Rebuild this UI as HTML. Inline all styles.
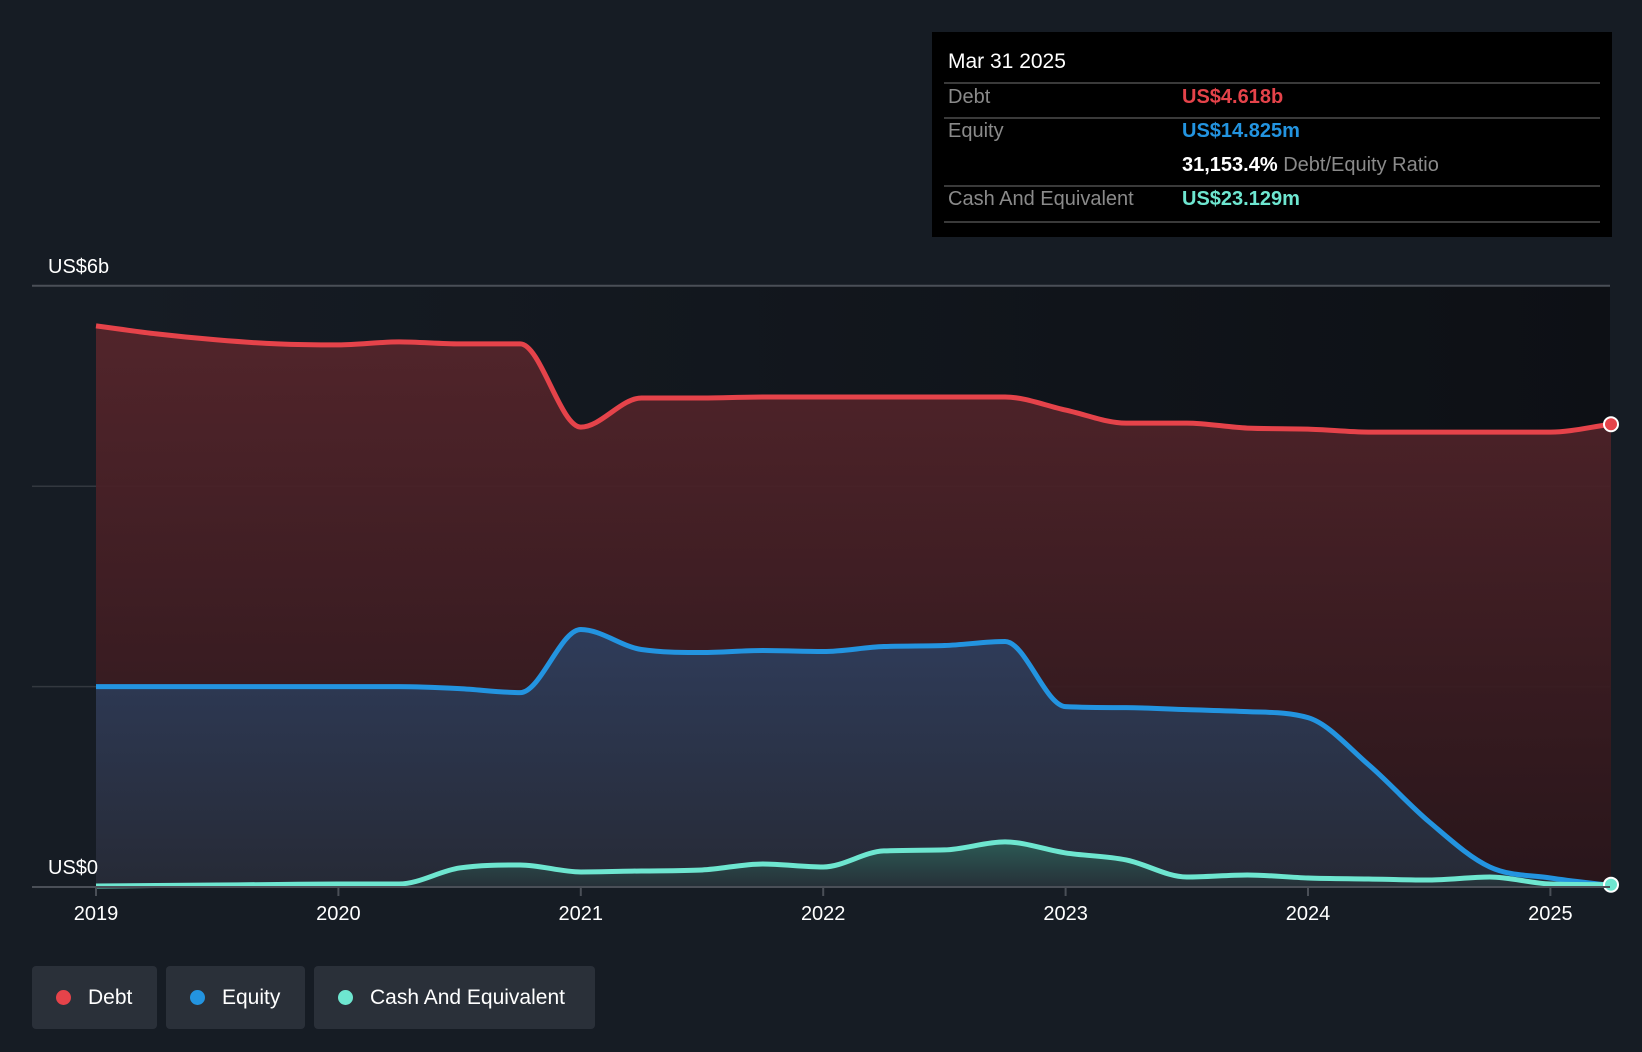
<!DOCTYPE html>
<html><head><meta charset="utf-8"><style>
body{margin:0;background:#161c24;width:1642px;height:1052px;overflow:hidden;font-family:"Liberation Sans",sans-serif;}
svg{position:absolute;left:0;top:0}
.tt{position:absolute;left:932px;top:32px;width:680px;height:205px;background:#000;}
.legend{position:absolute;top:966px;height:63px;background:#2a3039;border-radius:4px;color:#fff;font-size:21px;line-height:63px;box-sizing:border-box;padding-left:56px}
.legend i{position:absolute;left:24px;top:24px;width:15px;height:15px;border-radius:50%}
</style></head><body>
<svg id="chart" width="1642" height="1052">
<defs>
<linearGradient id="gd" x1="0" y1="0" x2="0" y2="1"><stop offset="0" stop-color="#55252b"/><stop offset="1" stop-color="#2a161b"/></linearGradient>
<linearGradient id="ge" x1="0" y1="0" x2="0" y2="1"><stop offset="0" stop-color="#2f3c5a"/><stop offset="1" stop-color="#262a36"/></linearGradient>
<linearGradient id="gc" x1="0" y1="0" x2="0" y2="1"><stop offset="0" stop-color="#2c5a55"/><stop offset="1" stop-color="#263038"/></linearGradient>
<linearGradient id="gbg" x1="0" y1="0" x2="1" y2="0"><stop offset="0" stop-color="#161c24"/><stop offset="1" stop-color="#0d1015"/></linearGradient>
</defs>
<rect x="96" y="286" width="1514" height="601" fill="url(#gbg)"/>
<g id="grid"></g><g id="areas"></g><g id="lines"></g><g id="axis"></g>
</svg>
<div class="tt">
<div style="position:absolute;left:16px;top:18px;color:#fff;font-size:21px">Mar 31 2025</div>
<div style="position:absolute;left:12px;right:12px;top:50px;border-top:2px solid #3a3a3a"></div>
<div style="position:absolute;left:16px;top:54px;color:#8a8a8a;font-size:20px">Debt</div>
<div style="position:absolute;left:250px;top:54px;color:#e5434a;font-size:20px;font-weight:bold">US$4.618b</div>
<div style="position:absolute;left:12px;right:12px;top:85px;border-top:2px solid #3a3a3a"></div>
<div style="position:absolute;left:16px;top:88px;color:#8a8a8a;font-size:20px">Equity</div>
<div style="position:absolute;left:250px;top:88px;color:#2394e0;font-size:20px;font-weight:bold">US$14.825m</div>
<div style="position:absolute;left:250px;top:122px;color:#fff;font-size:20px"><b>31,153.4%</b> <span style="color:#8a8a8a">Debt/Equity Ratio</span></div>
<div style="position:absolute;left:12px;right:12px;top:153px;border-top:2px solid #3a3a3a"></div>
<div style="position:absolute;left:16px;top:156px;color:#8a8a8a;font-size:20px">Cash And Equivalent</div>
<div style="position:absolute;left:250px;top:156px;color:#6ee6d0;font-size:20px;font-weight:bold">US$23.129m</div>
<div style="position:absolute;left:12px;right:12px;top:189px;border-top:2px solid #3a3a3a"></div>
</div>
<div class="legend" style="left:32px;width:125px"><i style="background:#e5434a"></i>Debt</div>
<div class="legend" style="left:166px;width:139px"><i style="background:#2394e0"></i>Equity</div>
<div class="legend" style="left:314px;width:281px"><i style="background:#6ee6d0"></i>Cash And Equivalent</div>
<script>
const dates=[];for(let i=0;i<26;i++)dates.push(2019+i*0.25);
const debt=[5.60,5.52,5.46,5.42,5.41,5.44,5.42,5.42,4.59,4.88,4.88,4.89,4.89,4.89,4.89,4.89,4.76,4.63,4.63,4.58,4.57,4.54,4.54,4.54,4.54,4.618];
const equity=[2.00,2.00,2.00,2.00,2.00,2.00,1.98,1.94,2.57,2.37,2.34,2.36,2.35,2.40,2.41,2.45,1.80,1.79,1.77,1.75,1.69,1.22,0.65,0.20,0.09,0.0148];
const cash=[0.01,0.015,0.02,0.025,0.03,0.03,0.19,0.22,0.15,0.16,0.17,0.23,0.20,0.36,0.37,0.45,0.34,0.27,0.10,0.12,0.09,0.08,0.07,0.10,0.03,0.023];
const yTicks=[0,2,4,6];
const yTickLabels={0:"US$0",6:"US$6b"};
const xYears=[2019,2020,2021,2022,2023,2024,2025];
const X=d=>96+(d-2019)*242.4;
const Y=v=>887-v*100.2;
const NS="http://www.w3.org/2000/svg";
function mk(parent,tag,attrs,name){const e=document.createElementNS(NS,tag);for(const k in attrs)e.setAttribute(k,attrs[k]);


document.getElementById(parent).appendChild(e);return e;}
function path(vals){const p=vals.map((v,i)=>[X(dates[i]),Y(v)]);const n=p.length;
const m=[];const dk=[];for(let i=0;i<n-1;i++)dk.push((p[i+1][1]-p[i][1])/(p[i+1][0]-p[i][0]));
for(let i=0;i<n;i++){if(i==0)m.push(dk[0]);else if(i==n-1)m.push(dk[n-2]);else m.push(dk[i-1]*dk[i]<=0?0:(dk[i-1]+dk[i])/2);}
for(let i=0;i<n-1;i++){if(dk[i]==0){m[i]=0;m[i+1]=0;continue;}const a=m[i]/dk[i],b=m[i+1]/dk[i],s=a*a+b*b;if(s>9){const t=3/Math.sqrt(s);m[i]=t*a*dk[i];m[i+1]=t*b*dk[i];}}
let d="M"+p[0][0]+","+p[0][1];
for(let i=0;i<n-1;i++){const h=(p[i+1][0]-p[i][0])/3;d+=" C"+(p[i][0]+h)+","+(p[i][1]+m[i]*h)+" "+(p[i+1][0]-h)+","+(p[i+1][1]-m[i+1]*h)+" "+p[i+1][0]+","+p[i+1][1];}
return d;}
function area(vals){return path(vals)+" L"+X(dates[dates.length-1])+","+Y(0)+" L"+X(dates[0])+","+Y(0)+" Z";}
yTicks.forEach(t=>{mk('grid','line',{x1:32,x2:1610,y1:Y(t),y2:Y(t),stroke:t==6?'#4a4f57':'#33383f','stroke-width':t==6?2:1.5},'gridline-'+t);
if(yTickLabels[t]!==undefined){const tx=mk('axis','text',{x:48,y:Y(t)-13,fill:'#fff','font-size':20,'font-family':'Liberation Sans, sans-serif'},'y-tick-label-'+t);tx.textContent=yTickLabels[t];}});
mk('areas','path',{d:area(debt),fill:'url(#gd)','fill-opacity':0.95},'debt-area');
mk('areas','path',{d:area(equity),fill:'url(#ge)'},'equity-area');
mk('areas','path',{d:area(cash),fill:'url(#gc)'},'cash-area');
mk('lines','path',{d:path(debt),fill:'none',stroke:'#e5434a','stroke-width':5},'debt-line');
mk('lines','path',{d:path(equity),fill:'none',stroke:'#2394e0','stroke-width':5},'equity-line');
mk('lines','path',{d:path(cash),fill:'none',stroke:'#6ee6d0','stroke-width':5},'cash-line');
const L=dates.length-1;
mk('lines','circle',{cx:X(dates[L]),cy:Y(debt[L]),r:7,fill:'#e5434a',stroke:'#fff','stroke-width':2},'debt-end-marker');
mk('lines','circle',{cx:X(dates[L]),cy:Y(cash[L]),r:7,fill:'#6ee6d0',stroke:'#fff','stroke-width':2},'cash-end-marker');
mk('axis','line',{x1:32,x2:1610,y1:887,y2:887,stroke:'#4a4f57','stroke-width':2},'x-axis-line');
xYears.forEach(y=>{mk('axis','line',{x1:X(y),x2:X(y),y1:887,y2:896,stroke:'#4a4f57','stroke-width':2},'x-tick-'+y);
const t=mk('axis','text',{x:X(y),y:920,fill:'#fff','font-size':20,'text-anchor':'middle','font-family':'Liberation Sans, sans-serif'},'x-tick-label-'+y);t.textContent=y;});
</script>
</body></html>
